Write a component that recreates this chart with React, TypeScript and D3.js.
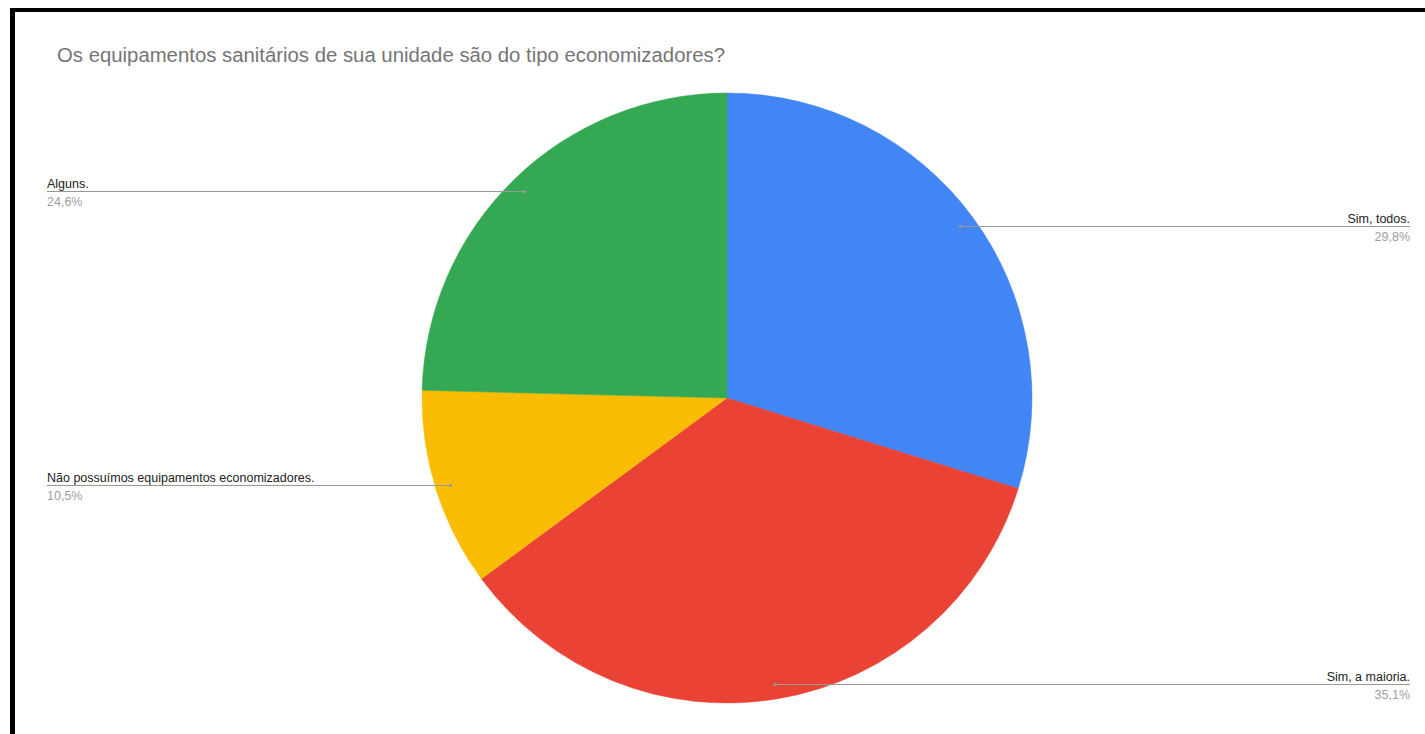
import React from "react";
import * as d3 from "d3";

const categories = ["Sim, todos.", "Sim, a maioria.", "Não possuímos equipamentos economizadores.", "Alguns."];
const values = [29.8, 35.1, 10.5, 24.6];
const pctLabels = ["29,8%", "35,1%", "10,5%", "24,6%"];
const colors = ["#4285F4", "#EA4335", "#FBBC04", "#34A853"];
const title = "Os equipamentos sanitários de sua unidade são do tipo economizadores?";

const W = 1425;
const H = 734;
const cx = 727;
const cy = 398;
const R = 305;
const leftX = 47;
const rightX = 1410;

export default function App() {
  const pie = d3.pie<number>().sort(null).value((d) => d)(values);
  const arc = d3.arc<d3.PieArcDatum<number>>().innerRadius(0).outerRadius(R);
  const dotArc = d3.arc<d3.PieArcDatum<number>>().innerRadius(R * 0.95).outerRadius(R * 0.95);

  return (
    <svg
      width={W}
      height={H}
      style={{ position: "absolute", left: 0, top: 0, background: "#fff" }}
      fontFamily="'Liberation Sans', Arial, sans-serif"
    >
      <rect x={0} y={0} width={W} height={H} fill="#fff" />
      <text x={57} y={62} fontSize={19.5} fill="#757575" textLength={668} lengthAdjust="spacingAndGlyphs">{title}</text>
      <g transform={`translate(${cx},${cy})`}>
        {pie.map((p, i) => (
          <path key={i} d={arc(p) as string} fill={colors[i]} stroke={colors[i]} strokeWidth={0.5} />
        ))}
      </g>
      {pie.map((p, i) => {
        const [dx, dy] = dotArc.centroid(p);
        const x = cx + dx;
        const y = Math.round(cy + dy) + 0.5;
        const right = x > cx;
        const tx = right ? rightX : leftX;
        return (
          <g key={"l" + i}>
            <line x1={x} y1={y} x2={tx} y2={y} stroke="#999" strokeWidth={1} />
            <circle cx={x} cy={y} r={1.6} fill="#999" />
            <text x={tx} y={y - 4} fontSize={12.5} fill="#222" textAnchor={right ? "end" : "start"}>
              {categories[i]}
            </text>
            <text x={tx} y={y + 14} fontSize={12.5} fill="#9e9e9e" textAnchor={right ? "end" : "start"}>
              {pctLabels[i]}
            </text>
          </g>
        );
      })}
      <rect x={10} y={8} width={W - 10} height={4} fill="#000" />
      <rect x={10} y={8} width={5} height={H - 8} fill="#000" />
    </svg>
  );
}
